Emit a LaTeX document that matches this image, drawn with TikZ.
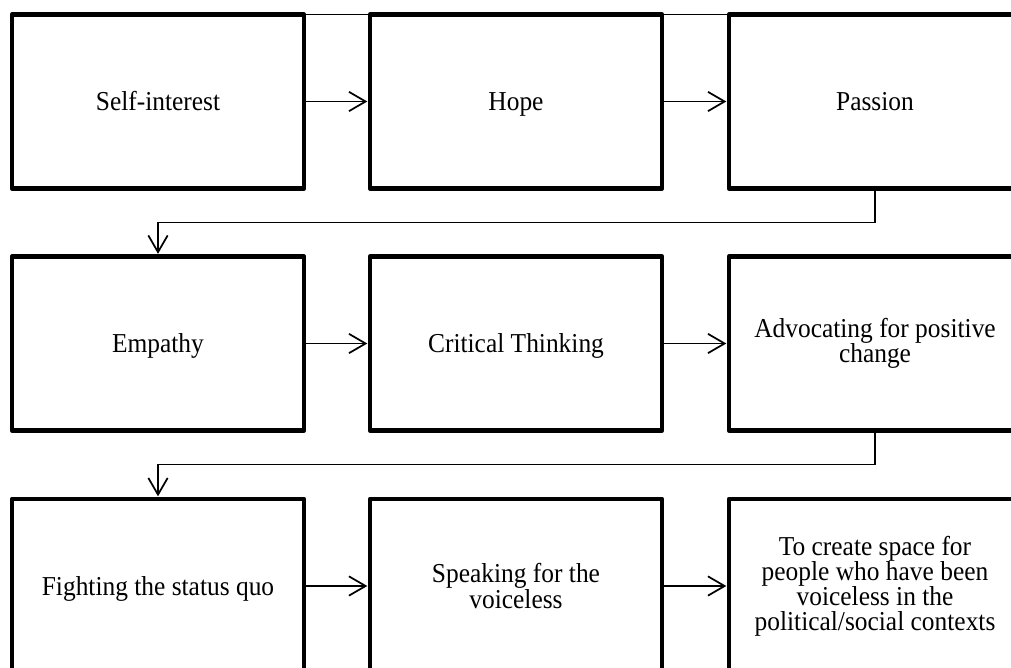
\documentclass[tikz,border=0pt]{standalone}
\usepackage{fontspec}
\setmainfont{Liberation Serif}[FakeStretch=0.93]
\usetikzlibrary{arrows.meta,calc,positioning}

\begin{document}
\begin{tikzpicture}[x=0.75pt,y=-0.75pt,
  stage/.style={draw=black, line width=3.4pt, line join=round, outer sep=0pt,
    minimum width=219pt, minimum height=130.5pt, align=center,
    font=\fontsize{20.5}{18.8}\selectfont, text=black},
  oneline/.style={stage, text height=13.5pt, text depth=0pt},
  link/.style={line width=1.1pt, draw=black,
    -{Straight Barb[length=12.5pt,width=14.5pt,line width=1.3pt]}, shorten >=2pt},
  rim/.style={line width=1.1pt, draw=black}]

\useasboundingbox (0,0) rectangle (1011,668);

% first row
\node[oneline] (s1) at (158,101.5) {Self-interest};
\node[oneline] (s2) at (516,101.5) {Hope};
\node[oneline] (s3) at (875,101.5) {Passion};

% second row
\node[oneline] (e1) at (158,343.5) {Empathy};
\node[oneline] (e2) at (516,343.5) {Critical Thinking};
\node[stage] (e3) at (875,343.5) {Advocating for positive\\change};

% third row
\node[oneline] (f1) at (158,586) {Fighting the status quo};
\node[stage] (f2) at (516,586) {Speaking for the\\voiceless};
\node[stage] (f3) at (875,586) {To create space for\\people who have been\\voiceless in the\\political/social contexts};

% thin rule joining the tops of the first row
\draw[rim] (s1.north east) -- (s2.north west);
\draw[rim] (s2.north east) -- (s3.north west);

% arrows along each row
\draw[link] (s1.east) -- (s2.west);
\draw[link] (s2.east) -- (s3.west);
\draw[link] (e1.east) -- (e2.west);
\draw[link] (e2.east) -- (e3.west);
\draw[link] (f1.east) -- (f2.west);
\draw[link] (f2.east) -- (f3.west);

% returns from the end of a row to the start of the next
\draw[link] (s3.south) -- ($(s3.south)!.5!(s3.south|-e1.north)$) -| (e1.north);
\draw[link] (e3.south) -- ($(e3.south)!.5!(e3.south|-f1.north)$) -| (f1.north);
\end{tikzpicture}
\end{document}
